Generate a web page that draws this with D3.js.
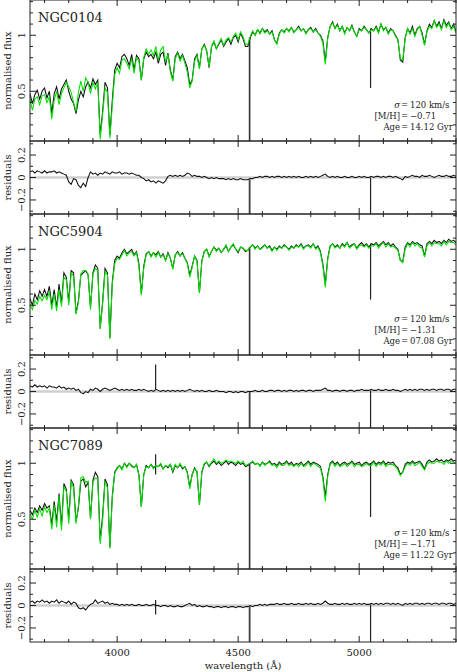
<!DOCTYPE html>
<html><head><meta charset="utf-8">
<script src="https://cdn.jsdelivr.net/npm/d3@7"></script>
<style>body{margin:0;background:#fff}svg{display:block}</style>
</head><body>
<script>
// ---------------- DATA ----------------
const waveStart = 3640, waveEnd = 5400, waveStep = 10;
const wavelengths = d3.range(waveStart, waveEnd + 1, waveStep);
const clusterNames = ["NGC0104", "NGC5904", "NGC7089"];
const sigmaValues = ["120 km/s", "120 km/s", "120 km/s"];
const metalValues = ["\u22120.71", "\u22121.31", "\u22121.71"];
const ageValues = ["14.12 Gyr", "07.08 Gyr", "11.22 Gyr"];
const xTickMajor = [4000, 4500, 5000];
const fluxTickMajor = [0.5, 1];
const residTickMajor = [-0.2, 0, 0.2];

// observed normalised flux, NGC0104 (10 A grid from 3640)
const flux0 = [
0.48,0.39,0.47,0.51,0.43,0.50,0.53,0.44,0.50,0.30,
0.48,0.54,0.43,0.52,0.56,0.60,0.50,0.43,0.39,0.30,
0.42,0.50,0.45,0.54,0.58,0.53,0.61,0.56,0.60,0.11,
0.32,0.58,0.53,0.11,0.42,0.69,0.75,0.71,0.81,0.83,
0.79,0.73,0.83,0.69,0.82,0.79,0.60,0.79,0.85,0.81,
0.83,0.79,0.85,0.75,0.83,0.85,0.73,0.84,0.69,0.60,
0.81,0.85,0.79,0.83,0.77,0.71,0.56,0.60,0.79,0.83,
0.71,0.88,0.92,0.86,0.71,0.90,0.94,0.88,0.92,0.96,
0.90,0.94,0.97,0.92,0.98,1.00,0.94,1.02,0.97,0.90,
0.90,0.98,1.03,1.00,1.05,1.02,1.06,1.03,1.05,1.01,
1.04,0.96,0.93,1.02,1.05,1.03,1.06,1.04,1.07,1.03,
1.05,1.08,1.04,1.06,1.02,1.05,1.07,1.03,1.06,1.02,
1.00,0.95,0.77,0.98,1.08,1.12,1.06,1.10,1.04,1.08,
1.02,1.07,1.04,1.09,1.03,0.99,1.06,1.04,1.08,1.05,
1.02,1.06,1.04,1.08,1.03,1.10,1.05,1.07,1.02,1.06,
1.04,1.00,0.96,0.78,0.76,0.98,1.06,1.02,1.08,1.00,
1.06,1.08,1.02,0.92,1.04,1.10,1.07,1.13,1.08,1.12,
1.06,1.14,1.09,1.12,1.06,1.10,1.03];
// residuals (observed - model), NGC0104
const resid0 = [
0.05,0.06,0.04,0.06,0.05,0.04,0.06,0.04,0.05,0.05,
0.06,0.04,0.05,0.04,0.03,0.02,-0.04,-0.06,-0.01,-0.02,
-0.07,-0.09,-0.05,-0.08,0.00,0.05,0.03,0.04,0.02,0.04,
0.03,0.05,0.04,0.03,0.05,0.04,0.04,0.05,0.03,0.04,
0.04,0.03,0.04,0.03,0.02,0.02,0.00,-0.01,-0.03,-0.02,
-0.04,-0.03,-0.05,-0.03,-0.04,-0.05,-0.03,0.01,0.02,0.01,
0.02,0.01,0.02,0.01,0.02,0.04,0.03,0.01,0.02,0.01,
0.01,0.00,0.01,0.00,-0.01,0.00,-0.01,0.00,-0.01,-0.01,
-0.01,-0.02,-0.01,-0.02,-0.01,-0.02,-0.02,-0.01,-0.02,-0.02,
-0.02,-0.01,-0.01,0.00,0.00,0.01,0.00,0.01,0.01,0.00,
0.01,0.00,0.01,0.01,0.00,0.01,0.00,0.01,0.00,0.01,
0.00,0.01,0.00,0.00,0.01,0.00,0.01,0.00,0.01,0.00,
0.01,0.02,0.03,0.01,0.00,0.01,0.00,0.01,0.00,0.00,
0.01,0.00,0.00,0.01,0.00,0.00,0.01,0.00,0.01,0.00,
0.00,0.01,0.00,0.01,0.01,0.00,0.01,0.00,0.01,0.01,
0.00,0.01,0.00,-0.01,-0.02,0.01,0.00,0.01,0.02,0.01,
0.01,0.00,0.02,0.01,0.01,0.02,0.01,0.00,0.01,0.02,
0.01,0.01,0.02,0.01,0.01,0.02,0.01];

// observed normalised flux, NGC5904
const flux1 = [
0.56,0.50,0.60,0.55,0.63,0.58,0.64,0.58,0.67,0.50,
0.64,0.48,0.69,0.52,0.79,0.75,0.53,0.81,0.79,0.43,
0.54,0.77,0.79,0.81,0.77,0.48,0.79,0.86,0.83,0.29,
0.53,0.83,0.79,0.21,0.71,0.90,0.94,0.92,0.97,1.00,
0.96,0.98,1.00,0.95,0.98,0.87,0.60,0.85,0.96,0.98,
0.94,0.97,0.95,0.98,0.93,0.96,0.90,0.97,0.92,0.83,
0.95,0.98,0.94,0.97,0.92,0.88,0.77,0.85,0.94,0.90,
0.61,0.90,0.98,1.00,0.94,0.98,1.02,0.99,1.01,0.97,
1.00,1.03,0.98,1.02,1.04,1.00,0.97,1.02,1.01,0.98,
0.99,1.02,1.04,1.01,1.03,1.00,1.02,1.04,1.01,1.03,
0.99,1.02,1.00,1.03,1.01,1.04,1.02,1.00,1.03,1.01,
1.04,1.02,1.05,1.01,1.03,1.04,1.02,1.05,1.01,1.03,
0.98,0.87,0.69,0.92,1.03,1.05,1.02,1.04,1.01,1.05,
1.03,1.06,1.02,1.04,1.05,1.01,1.04,1.06,1.03,1.05,
1.02,1.05,1.04,1.06,1.03,1.05,1.07,1.04,1.06,1.03,
1.05,1.02,1.00,0.90,0.89,1.02,1.06,1.04,1.07,1.05,
1.06,1.04,1.03,0.94,1.05,1.07,1.05,1.08,1.06,1.07,
1.05,1.08,1.06,1.09,1.07,1.08,1.06];
const resid1 = [
0.05,0.04,0.06,0.04,0.05,0.04,0.05,0.03,0.05,0.04,
0.04,0.03,0.05,0.03,0.04,0.02,0.03,0.02,0.03,0.01,
0.02,-0.01,-0.02,0.00,-0.01,0.02,0.01,0.03,0.02,0.00,
0.02,0.03,0.02,0.01,0.02,0.03,0.02,0.01,0.02,0.01,
0.02,0.01,0.02,0.01,0.01,0.02,0.01,0.02,0.01,0.00,
0.01,0.00,0.02,0.01,0.00,0.01,0.00,0.01,0.00,0.01,
0.00,0.01,0.00,0.01,0.00,0.01,0.02,0.01,0.00,0.01,
0.00,0.01,0.00,0.00,0.01,0.00,0.00,0.01,0.00,0.00,
0.00,-0.01,0.00,0.00,-0.01,0.00,-0.01,0.00,0.00,-0.01,
0.00,0.00,0.00,0.01,0.00,0.00,0.01,0.00,0.00,0.01,
0.01,0.00,0.01,0.01,0.00,0.01,0.00,0.01,0.01,0.00,
0.01,0.00,0.01,0.01,0.00,0.01,0.01,0.00,0.01,0.01,
0.01,0.02,0.03,0.01,0.01,0.00,0.01,0.01,0.00,0.01,
0.01,0.00,0.01,0.01,0.00,0.01,0.01,0.02,0.01,0.01,
0.01,0.02,0.01,0.01,0.02,0.01,0.01,0.02,0.01,0.01,
0.02,0.01,0.01,0.00,0.01,0.02,0.01,0.02,0.01,0.02,
0.01,0.02,0.02,0.01,0.02,0.01,0.02,0.02,0.01,0.02,
0.02,0.01,0.02,0.02,0.01,0.02,0.02];

// observed normalised flux, NGC7089
const flux2 = [
0.58,0.54,0.60,0.56,0.62,0.58,0.64,0.60,0.62,0.45,
0.66,0.48,0.73,0.44,0.82,0.77,0.50,0.85,0.81,0.48,
0.60,0.84,0.86,0.79,0.83,0.51,0.85,0.92,0.88,0.31,
0.53,0.86,0.81,0.25,0.71,0.92,0.96,0.98,0.95,1.00,
0.97,1.00,0.98,0.96,0.99,0.90,0.61,0.90,0.98,0.96,
0.99,0.96,0.98,0.97,0.99,0.95,0.98,0.96,0.99,0.92,
0.98,0.96,0.99,0.95,0.97,0.92,0.79,0.90,0.96,0.92,
0.63,0.92,0.99,1.01,0.97,1.00,1.02,0.99,1.01,0.98,
1.00,1.02,0.99,1.01,1.00,0.98,1.01,0.99,1.00,0.97,
0.98,1.00,1.01,0.99,1.00,0.98,1.01,0.99,1.00,1.02,
0.99,1.00,0.98,1.01,0.99,1.00,1.02,0.99,1.01,0.98,
1.00,0.99,1.01,0.98,1.00,1.02,0.99,1.01,1.00,0.99,
0.97,0.88,0.70,0.90,1.00,1.02,0.99,1.01,0.98,1.00,
1.01,0.99,1.00,1.02,0.99,1.00,1.01,0.98,1.00,1.01,
0.99,1.00,1.02,0.99,1.01,1.00,1.02,0.99,1.01,1.00,
1.01,0.98,0.96,0.90,0.92,0.99,1.01,1.00,1.02,1.00,
1.01,1.02,0.99,0.95,1.01,1.03,1.01,1.02,1.04,1.02,
1.03,1.01,1.03,1.02,1.04,1.02,1.03];
const resid2 = [
0.03,0.04,0.02,0.04,0.03,0.05,0.03,0.04,0.02,0.04,
0.03,0.05,0.02,0.04,0.03,0.02,0.04,0.01,0.03,0.02,
-0.02,-0.03,-0.02,-0.04,-0.01,0.01,0.02,0.05,0.02,0.03,
0.04,0.02,0.03,0.01,0.02,0.01,0.01,0.00,0.01,0.00,
0.01,0.00,0.01,0.00,0.00,0.01,0.00,0.00,0.01,0.00,
0.00,0.01,0.00,0.00,-0.01,0.00,0.00,-0.01,0.00,-0.01,
-0.01,0.00,-0.01,-0.01,0.00,0.01,0.02,0.00,0.01,-0.01,
0.00,-0.01,-0.01,0.00,-0.01,-0.01,-0.02,-0.01,-0.01,-0.02,
-0.01,-0.01,-0.02,-0.01,-0.01,-0.02,-0.01,-0.01,-0.02,-0.01,
-0.01,0.00,-0.01,0.00,0.00,0.01,0.00,0.01,0.00,0.01,
0.01,0.01,0.02,0.01,0.01,0.02,0.01,0.01,0.02,0.01,
0.01,0.02,0.01,0.01,0.02,0.01,0.02,0.01,0.01,0.02,
0.01,0.02,0.04,0.02,0.01,0.01,0.02,0.01,0.01,0.02,
0.01,0.02,0.01,0.01,0.02,0.01,0.02,0.01,0.02,0.01,
0.01,0.02,0.01,0.02,0.01,0.02,0.01,0.02,0.02,0.01,
0.02,0.01,0.02,0.01,0.00,0.02,0.01,0.02,0.01,0.02,
0.02,0.01,0.02,0.01,0.02,0.02,0.01,0.02,0.02,0.01,
0.02,0.02,0.01,0.02,0.02,0.01,0.02];

// bad-pixel spikes: wavelength, flux-panel end value, residual end value
const spikeWaves = [4548, 5047];
const spikeFluxEnds = [[0.0, 0.53], [0.0, 0.55], [0.0, 0.52]];
const spikeResidEnds = [[-0.6, -0.6], [-0.6, -0.6], [-0.6, -0.6]];
// short spikes near 4160 A: [panel, wave, fluxLow, fluxHigh, residLow, residHigh]
const extraSpikes = [[1, 4159, null, null, 0.02, 0.24], [2, 4159, 0.90, 1.08, -0.08, 0.05]];

const fluxSeries = [flux0, flux1, flux2];
const residSeries = [resid0, resid1, resid2];

// ---------------- LAYOUT ----------------
const W = 457, H = 672;
const xL = 30, xR = 456;
const groupH = 214, fluxH = 141, residH = 73;
const fluxDomain = [0.056, 1.315], residDomain = [-0.325, 0.325];
const serif = "'DejaVu Serif', 'Liberation Serif', serif";
const green = "#00e000";

const svg = d3.select("body").append("svg").attr("width", W).attr("height", H);
const x = d3.scaleLinear().domain([waveStart, waveEnd]).range([xL, xR]);
const defs = svg.append("defs");

for (let g = 0; g < 3; g++) {
  const top = g * groupH;
  const yF = d3.scaleLinear().domain(fluxDomain).range([top + fluxH, top]);
  const yR = d3.scaleLinear().domain(residDomain).range([top + fluxH + residH, top + fluxH]);
  const obs = fluxSeries[g], res = residSeries[g];
  const pts = wavelengths.map((w, i) => ({w, f: obs[i], m: obs[i] - res[i], r: res[i]}));
  const extras = extraSpikes.filter(s => s[0] === g);

  defs.append("clipPath").attr("id", "cf" + g).append("rect")
    .attr("x", xL).attr("y", top).attr("width", xR - xL).attr("height", fluxH);
  defs.append("clipPath").attr("id", "cr" + g).append("rect")
    .attr("x", xL).attr("y", top + fluxH).attr("width", xR - xL).attr("height", residH);

  const fp = svg.append("g").attr("clip-path", `url(#cf${g})`);
  spikeWaves.forEach((sw, k) => {
    const i0 = Math.floor((sw - waveStart) / waveStep);
    const base = Math.max(obs[i0], obs[i0 + 1]);
    fp.append("line").attr("x1", x(sw - 2)).attr("x2", x(sw - 2))
      .attr("y1", yF(base)).attr("y2", yF(spikeFluxEnds[g][k]))
      .attr("stroke", k === 0 ? "#777" : "none").attr("stroke-width", 1.2);
    fp.append("line").attr("x1", x(sw)).attr("x2", x(sw))
      .attr("y1", yF(base)).attr("y2", yF(spikeFluxEnds[g][k]))
      .attr("stroke", "#222").attr("stroke-width", 1.2);
  });
  extras.filter(s => s[2] !== null).forEach(s => {
    fp.append("line").attr("x1", x(s[1])).attr("x2", x(s[1]))
      .attr("y1", yF(s[2])).attr("y2", yF(s[3]))
      .attr("stroke", "#222").attr("stroke-width", 1.2);
  });
  fp.append("path").datum(pts)
    .attr("d", d3.line().x(d => x(d.w)).y(d => yF(d.f)))
    .attr("fill", "none").attr("stroke", "#111").attr("stroke-width", 1.05);
  fp.append("path").datum(pts)
    .attr("d", d3.line().x(d => x(d.w)).y(d => yF(d.m)))
    .attr("fill", "none").attr("stroke", green).attr("stroke-width", 1.05);

  const rp = svg.append("g").attr("clip-path", `url(#cr${g})`);
  rp.append("line").attr("x1", xL).attr("x2", xR).attr("y1", yR(0)).attr("y2", yR(0))
    .attr("stroke", "#cfcfcf").attr("stroke-width", 2.5);
  rp.append("line").attr("x1", x(spikeWaves[0] - 2)).attr("x2", x(spikeWaves[0] - 2))
    .attr("y1", yR(0)).attr("y2", yR(residDomain[0]))
    .attr("stroke", "#c8c8c8").attr("stroke-width", 2.5);
  spikeWaves.forEach((sw, k) => {
    const i0 = Math.floor((sw - waveStart) / waveStep);
    rp.append("line").attr("x1", x(sw)).attr("x2", x(sw))
      .attr("y1", yR(res[i0])).attr("y2", yR(spikeResidEnds[g][k]))
      .attr("stroke", "#222").attr("stroke-width", 1.2);
  });
  extras.forEach(s => {
    rp.append("line").attr("x1", x(s[1])).attr("x2", x(s[1]))
      .attr("y1", yR(s[4])).attr("y2", yR(s[5]))
      .attr("stroke", "#222").attr("stroke-width", 1.2);
  });
  rp.append("path").datum(pts)
    .attr("d", d3.line().x(d => x(d.w)).y(d => yR(d.r)))
    .attr("fill", "none").attr("stroke", "#111").attr("stroke-width", 1.05);

  [[top, top + fluxH], [top + fluxH, top + fluxH + residH]].forEach(([a, b]) => {
    svg.append("rect").attr("x", xL).attr("y", a).attr("width", xR - xL).attr("height", b - a)
      .attr("fill", "none").attr("stroke", "#222").attr("stroke-width", 1);
  });

  const minorX = d3.range(3700, 5401, 100);
  [[top, top + fluxH], [top + fluxH, top + fluxH + residH]].forEach(([a, b]) => {
    minorX.forEach(w => {
      const major = xTickMajor.includes(w);
      const len = major ? 6 : 3;
      svg.append("line").attr("x1", x(w)).attr("x2", x(w)).attr("y1", a).attr("y2", a + len)
        .attr("stroke", "#222");
      svg.append("line").attr("x1", x(w)).attr("x2", x(w)).attr("y1", b).attr("y2", b - len)
        .attr("stroke", "#222");
    });
  });
  d3.range(1, 14).map(v => v / 10).forEach(v => {
    const major = fluxTickMajor.includes(v);
    const len = major ? 6 : 3;
    [[xL, 1], [xR, -1]].forEach(([xx, s]) => {
      svg.append("line").attr("x1", xx).attr("x2", xx + s * len).attr("y1", yF(v)).attr("y2", yF(v))
        .attr("stroke", "#222");
    });
  });
  d3.range(-3, 4).map(v => v / 10).forEach(v => {
    const major = residTickMajor.includes(v);
    const len = major ? 6 : 3;
    [[xL, 1], [xR, -1]].forEach(([xx, s]) => {
      svg.append("line").attr("x1", xx).attr("x2", xx + s * len).attr("y1", yR(v)).attr("y2", yR(v))
        .attr("stroke", "#222");
    });
  });
  fluxTickMajor.forEach(v => {
    svg.append("text").attr("transform", `translate(25,${yF(v)}) rotate(-90)`)
      .attr("text-anchor", "middle").attr("font-family", serif).attr("font-size", 10)
      .attr("fill", "#222").text(v === 1 ? "1" : "0.5");
  });
  residTickMajor.forEach(v => {
    svg.append("text").attr("transform", `translate(25,${yR(v)}) rotate(-90)`)
      .attr("text-anchor", "middle").attr("font-family", serif).attr("font-size", 10)
      .attr("fill", "#222").text(v === 0 ? "0" : (v < 0 ? "\u22120.2" : "0.2"));
  });
  svg.append("text").attr("transform", `translate(11,${top + fluxH / 2}) rotate(-90)`)
    .attr("text-anchor", "middle").attr("font-family", serif).attr("font-size", 10)
    .attr("fill", "#222").text("normalised flux");
  svg.append("text").attr("transform", `translate(11,${top + fluxH + residH / 2}) rotate(-90)`)
    .attr("text-anchor", "middle").attr("font-family", serif).attr("font-size", 10)
    .attr("fill", "#222").text("residuals");
  svg.append("text").attr("x", 38).attr("y", top + 21.5).attr("font-family", serif)
    .attr("font-size", 13).attr("fill", "#222").text(clusterNames[g]);
  const ann = [["\u03c3", sigmaValues[g]], ["[M/H]", metalValues[g]], ["Age", ageValues[g]]];
  ann.forEach(([lab, val], k) => {
    const yy = top + 108 + k * 11;
    svg.append("text").attr("x", 400).attr("y", yy).attr("text-anchor", "end")
      .attr("font-family", serif).attr("font-size", 8.5).attr("fill", "#222")
      .attr("font-style", k === 0 ? "italic" : "normal").text(lab);
    svg.append("text").attr("x", 404.5).attr("y", yy).attr("text-anchor", "middle")
      .attr("font-family", serif).attr("font-size", 8.5).attr("fill", "#222").text("=");
    svg.append("text").attr("x", 410).attr("y", yy)
      .attr("font-family", serif).attr("font-size", 8.5).attr("fill", "#222").text(val);
  });
}

const bottom = 2 * groupH + fluxH + residH;
xTickMajor.forEach(w => {
  svg.append("text").attr("x", x(w)).attr("y", bottom + 14).attr("text-anchor", "middle")
    .attr("font-family", serif).attr("font-size", 10).attr("fill", "#222").text(w);
});
svg.append("text").attr("x", (xL + xR) / 2).attr("y", bottom + 27).attr("text-anchor", "middle")
  .attr("font-family", serif).attr("font-size", 10).attr("fill", "#222").text("wavelength (\u00c5)");
</script>
</body></html>
